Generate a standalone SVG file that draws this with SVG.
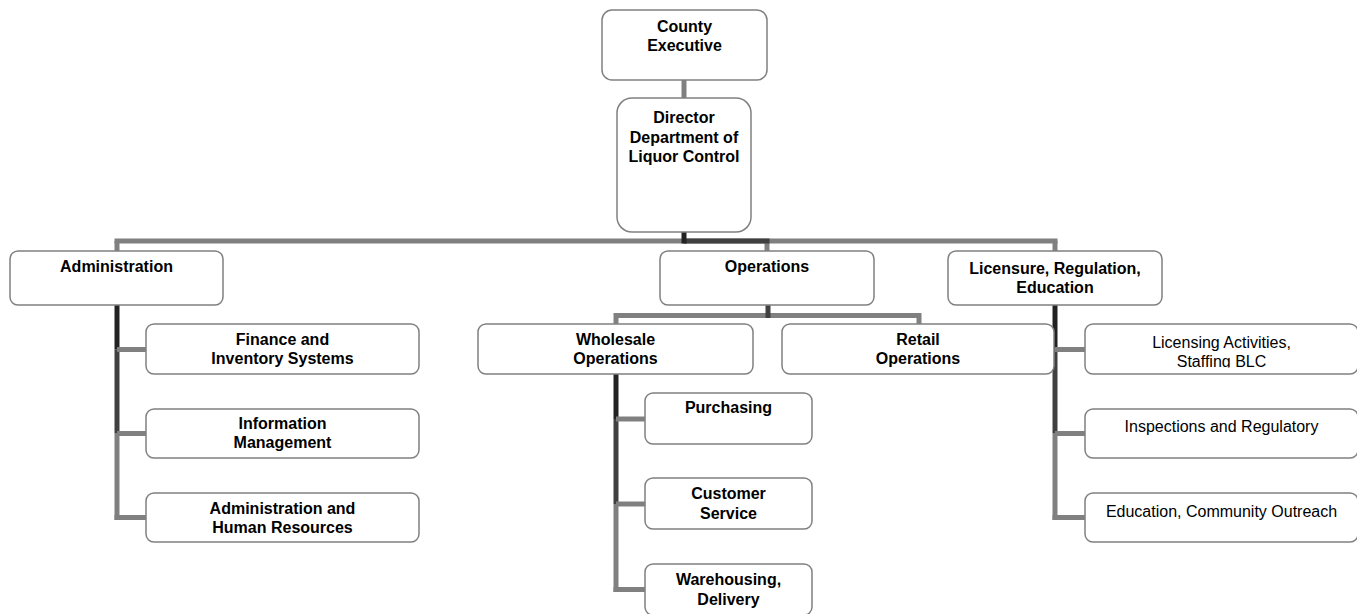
<svg xmlns="http://www.w3.org/2000/svg" width="1357" height="614" viewBox="0 0 1357 614">
<style>
.box{fill:#ffffff;stroke:#808080;stroke-width:1.5}
.b{font-family:"Liberation Sans",Arial,sans-serif;font-size:16px;font-weight:bold;fill:#000;text-anchor:middle}
.r{font-family:"Liberation Sans",Arial,sans-serif;font-size:16px;fill:#000;text-anchor:middle}
.g{stroke:#808080;stroke-width:5;fill:none}
.d1{stroke:#222222;stroke-width:5;fill:none}
.d2{stroke:#404040;stroke-width:5;fill:none}
</style>
<defs>
<clipPath id="clipLic"><rect x="1085" y="324" width="273" height="43.5"/></clipPath>
</defs>
<rect width="1357" height="614" fill="#ffffff"/>
<g id="connectors">
<line class="g" x1="684" y1="80" x2="684" y2="99"/>
<line class="g" x1="114.5" y1="241" x2="1057.5" y2="241"/>
<line class="g" x1="117" y1="241" x2="117" y2="252"/>
<line class="g" x1="1055" y1="241" x2="1055" y2="252"/>
<line class="g" x1="767" y1="241" x2="767" y2="252"/>
<line class="d2" x1="684" y1="241" x2="769.5" y2="241"/>
<line class="d1" x1="684" y1="232" x2="684" y2="243.5"/>
<!-- Administration -->
<line class="g" x1="117" y1="433.5" x2="117" y2="520"/>
<line class="d2" x1="117" y1="349.5" x2="117" y2="433.5"/>
<line class="d1" x1="117" y1="305" x2="117" y2="349.5"/>
<line class="g" x1="117" y1="349.5" x2="146" y2="349.5"/>
<line class="g" x1="117" y1="433.5" x2="146" y2="433.5"/>
<line class="g" x1="114.5" y1="517.5" x2="146" y2="517.5"/>
<!-- Operations -->
<line class="g" x1="616" y1="315.5" x2="919" y2="315.5"/>
<line class="g" x1="616" y1="313" x2="616" y2="324"/>
<line class="g" x1="919" y1="313" x2="919" y2="324"/>
<line class="d2" x1="768" y1="305" x2="768" y2="318"/>
<line class="g" x1="616" y1="504" x2="616" y2="592"/>
<line class="d2" x1="616" y1="419" x2="616" y2="504"/>
<line class="d1" x1="616" y1="374" x2="616" y2="419"/>
<line class="g" x1="616" y1="419" x2="645" y2="419"/>
<line class="g" x1="616" y1="504" x2="645" y2="504"/>
<line class="g" x1="613.5" y1="589.5" x2="645" y2="589.5"/>
<!-- Licensure -->
<line class="g" x1="1055" y1="433.5" x2="1055" y2="520"/>
<line class="d2" x1="1055" y1="349.5" x2="1055" y2="433.5"/>
<line class="d1" x1="1055" y1="305" x2="1055" y2="349.5"/>
<line class="g" x1="1055" y1="349.5" x2="1085" y2="349.5"/>
<line class="g" x1="1055" y1="433.5" x2="1085" y2="433.5"/>
<line class="g" x1="1052.5" y1="517.5" x2="1085" y2="517.5"/>
</g>
<g id="county">
<rect class="box" x="602" y="10" width="165" height="70" rx="10"/>
<text class="b" x="684.5" y="32">County</text>
<text class="b" x="684.5" y="51">Executive</text>
</g>
<g id="director">
<rect class="box" x="617" y="98" width="134" height="134" rx="15"/>
<text class="b" x="684" y="123">Director</text>
<text class="b" x="684" y="142.5">Department of</text>
<text class="b" x="684" y="162">Liquor Control</text>
</g>
<g id="administration">
<rect class="box" x="10" y="251" width="213" height="54" rx="8"/>
<text class="b" x="116.5" y="272">Administration</text>
</g>
<g id="finance">
<rect class="box" x="146" y="324" width="273" height="50" rx="8"/>
<text class="b" x="282.5" y="345">Finance and</text>
<text class="b" x="282.5" y="364">Inventory Systems</text>
</g>
<g id="infomgmt">
<rect class="box" x="146" y="409" width="273" height="49" rx="8"/>
<text class="b" x="282.5" y="429">Information</text>
<text class="b" x="282.5" y="448">Management</text>
</g>
<g id="adminhr">
<rect class="box" x="146" y="493" width="273" height="49" rx="8"/>
<text class="b" x="282.5" y="514">Administration and</text>
<text class="b" x="282.5" y="533">Human Resources</text>
</g>
<g id="operations">
<rect class="box" x="660" y="251" width="214" height="54" rx="8"/>
<text class="b" x="767" y="272">Operations</text>
</g>
<g id="wholesale">
<rect class="box" x="478" y="324" width="275" height="50" rx="8"/>
<text class="b" x="615.5" y="345">Wholesale</text>
<text class="b" x="615.5" y="364">Operations</text>
</g>
<g id="retail">
<rect class="box" x="782" y="324" width="272" height="50" rx="8"/>
<text class="b" x="918" y="345">Retail</text>
<text class="b" x="918" y="364">Operations</text>
</g>
<g id="purchasing">
<rect class="box" x="645" y="393" width="167" height="51" rx="8"/>
<text class="b" x="728.5" y="413">Purchasing</text>
</g>
<g id="customer">
<rect class="box" x="645" y="478" width="167" height="51" rx="8"/>
<text class="b" x="728.5" y="499">Customer</text>
<text class="b" x="728.5" y="518.5">Service</text>
</g>
<g id="warehousing">
<rect class="box" x="645" y="564" width="167" height="51" rx="8"/>
<text class="b" x="728.5" y="585">Warehousing,</text>
<text class="b" x="728.5" y="604.5">Delivery</text>
</g>
<g id="licensure">
<rect class="box" x="948" y="251" width="214" height="54" rx="8"/>
<text class="b" x="1055" y="274">Licensure, Regulation,</text>
<text class="b" x="1055" y="293">Education</text>
</g>
<g id="licensing">
<rect class="box" x="1085" y="324" width="273" height="50" rx="8"/>
<g clip-path="url(#clipLic)">
<text class="r" x="1221.5" y="348">Licensing Activities,</text>
<text class="r" x="1221.5" y="367">Staffing BLC</text>
</g>
</g>
<g id="inspections">
<rect class="box" x="1085" y="409" width="273" height="49" rx="8"/>
<text class="r" x="1221.5" y="431.5">Inspections and Regulatory</text>
</g>
<g id="education">
<rect class="box" x="1085" y="493" width="273" height="49" rx="8"/>
<text class="r" x="1221.5" y="516.5">Education, Community Outreach</text>
</g>
</svg>
